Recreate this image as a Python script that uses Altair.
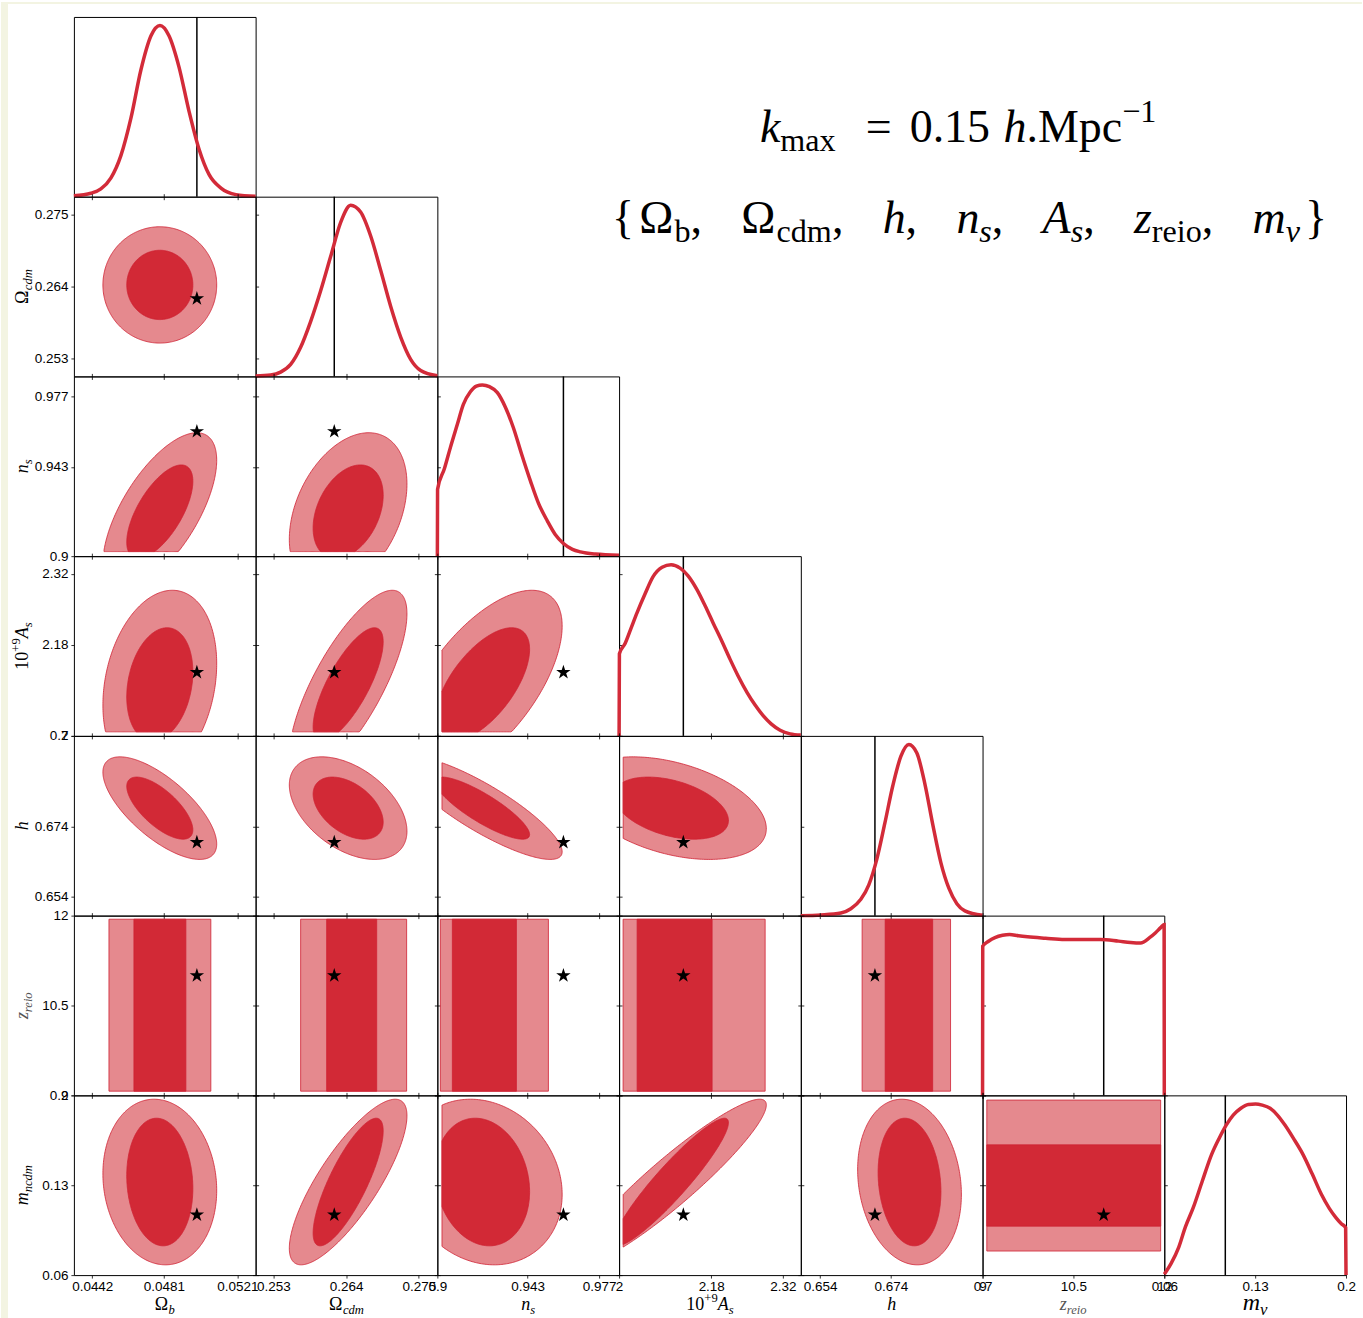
import numpy as np
import pandas as pd
import altair as alt

PANEL_W, PANEL_H = 182, 180
GRID_LEFT, GRID_TOP = 73, 15

DARK = "#d22936"
LIGHT = "#e5898e"
EDGE = "#cf2233"
CURVE = "#d32b39"
STAR = ("M0,-1L0.2245,-0.309L0.951,-0.309L0.363,0.118L0.588,0.809L0,0.382"
        "L-0.588,0.809L-0.363,0.118L-0.951,-0.309L-0.2245,-0.309Z")
LABEL_EXPR = "format(datum.value, '.3~g')"

# ---------------------------------------------------------------- parameters
# order: Omega_b, Omega_cdm, n_s, A_s (x1e9), h, z_reio, m_nu
axis_lo = [0.0432, 0.2503, 0.9, 2.0, 0.6485, 9.0, 0.06]
axis_hi = [0.0531, 0.2778, 0.9865, 2.355, 0.7, 12.0, 0.2]
tick_values = [
    [0.0442, 0.0481, 0.0521],
    [0.253, 0.264, 0.275],
    [0.9, 0.943, 0.977],
    [2.0, 2.18, 2.32],
    [0.654, 0.674, 0.7],
    [9, 10.5, 12],
    [0.06, 0.13, 0.2],
]
fiducial = [0.0499, 0.2622, 0.96, 2.1255, 0.6695, 11.0, 0.107]

# ---------------------------------------------------------------- 1D marginals
omega_b_x = [0.0432, 0.04413, 0.04467, 0.04522, 0.04576, 0.04631, 0.04685, 0.0474, 0.04789,
             0.04838, 0.04892, 0.04947, 0.05001, 0.05056, 0.05121, 0.05203, 0.0531]
omega_b_p = [0.005, 0.02, 0.045, 0.11, 0.24, 0.46, 0.74, 0.94, 1.0,
             0.94, 0.76, 0.5, 0.28, 0.13, 0.05, 0.012, 0.002]

omega_cdm_x = [0.2503, 0.25257, 0.25408, 0.2556, 0.25711, 0.25862, 0.26014, 0.26165, 0.26317,
               0.26468, 0.26619, 0.26771, 0.26922, 0.27073, 0.27225, 0.27376, 0.27527, 0.2778]
omega_cdm_p = [0.003, 0.008, 0.025, 0.07, 0.17, 0.32, 0.5, 0.7, 0.9,
               1.0, 0.96, 0.82, 0.62, 0.41, 0.23, 0.1, 0.035, 0.004]

n_s_x = [0.9, 0.9001, 0.90333, 0.90619, 0.90952, 0.91238, 0.91571, 0.91857, 0.92143, 0.92476,
         0.92857, 0.93238, 0.93619, 0.94, 0.94429, 0.9481, 0.95238, 0.95619, 0.96, 0.96429,
         0.9681, 0.97524, 0.9865]
n_s_p = [0.0, 0.39, 0.51, 0.634, 0.77, 0.886, 0.96, 0.993, 1.0, 0.99,
         0.955, 0.87, 0.75, 0.6, 0.44, 0.31, 0.205, 0.125, 0.074, 0.04,
         0.025, 0.012, 0.005]

a_s_x = [2.0, 2.0006, 2.01172, 2.02345, 2.03517, 2.0508, 2.06643, 2.08402, 2.1016, 2.11919,
         2.13482, 2.1524, 2.16803, 2.18366, 2.20125, 2.21688, 2.23251, 2.2501, 2.26573,
         2.28136, 2.29699, 2.31458, 2.33412, 2.355]
a_s_p = [0.0, 0.48, 0.54, 0.63, 0.72, 0.83, 0.93, 0.985, 1.0, 0.98,
         0.935, 0.853, 0.76, 0.66, 0.55, 0.447, 0.35, 0.253, 0.18,
         0.118, 0.07, 0.033, 0.012, 0.005]

h_x = [0.6485, 0.65417, 0.65984, 0.66267, 0.66551, 0.66777, 0.67004, 0.67231, 0.67458, 0.67684,
       0.67911, 0.68138, 0.68365, 0.68591, 0.68818, 0.69045, 0.69272, 0.69499, 0.7]
h_p = [0.0, 0.004, 0.015, 0.04, 0.095, 0.18, 0.33, 0.54, 0.76, 0.93,
       1.0, 0.95, 0.77, 0.53, 0.31, 0.16, 0.07, 0.028, 0.002]

z_reio_x = [9.0, 9.003, 9.099, 9.205, 9.33, 9.446, 9.594, 9.743, 10.04, 10.354,
            10.651, 10.948, 11.245, 11.443, 11.609, 11.757, 11.856, 11.94, 11.997, 12.0]
z_reio_p = [0.0, 0.872, 0.9, 0.921, 0.935, 0.94, 0.932, 0.926, 0.918, 0.911,
            0.911, 0.911, 0.901, 0.893, 0.89, 0.921, 0.95, 0.98, 0.998, 0.0]

m_nu_x = [0.06, 0.0654, 0.0711, 0.0762, 0.0823, 0.0893, 0.0964, 0.1023, 0.1078, 0.1131,
          0.119, 0.1247, 0.1303, 0.1355, 0.1415, 0.1471, 0.1528, 0.1594, 0.1669, 0.174,
          0.181, 0.1871, 0.1922, 0.1964, 0.1997, 0.2]
m_nu_p = [0.005, 0.07, 0.162, 0.28, 0.394, 0.55, 0.704, 0.8, 0.878, 0.935,
          0.975, 0.997, 1.0, 0.993, 0.975, 0.935, 0.878, 0.8, 0.704, 0.59,
          0.472, 0.39, 0.336, 0.3, 0.278, 0.0]

marginal_x = [omega_b_x, omega_cdm_x, n_s_x, a_s_x, h_x, z_reio_x, m_nu_x]
marginal_p = [omega_b_p, omega_cdm_p, n_s_p, a_s_p, h_p, z_reio_p, m_nu_p]

# ---------------------------------------------------------------- 2D contours
contour_centre = [0.04788, 0.2643, 0.9214, 2.1016, 0.6793, 10.5, 0.1325]
half_width_68 = [0.0018, 0.0053, 0.0225, 0.112, 0.0089, 1.0, 0.0497]
half_width_95 = [0.0031, 0.0089, 0.038, 0.186, 0.0147, 2.0, 0.0645]
support_lo = [0.0432, 0.2503, 0.9022, 2.008, 0.6485, 9.07, 0.0605]
support_hi = [0.0531, 0.2778, 0.9865, 2.355, 0.6985, 11.94, 0.1995]

correlation = {
    (1, 0): 0.0,
    (2, 0): 0.65, (2, 1): 0.35,
    (3, 0): 0.22, (3, 1): 0.75, (3, 2): 0.62,
    (4, 0): -0.7, (4, 1): -0.45, (4, 2): -0.85, (4, 3): -0.4,
    (6, 0): -0.1, (6, 1): 0.8, (6, 2): -0.15, (6, 3): 0.93, (6, 4): -0.15,
}

# z_reio is unconstrained: its panels show bands in the other parameter
band68_lo = [0.04647, 0.26105, 0.90714, 2.0352, 0.6724, None, 0.09814]
band68_hi = [0.0493, 0.26862, 0.93762, 2.1817, 0.68586, None, 0.16144]
band95_lo = [0.04511, 0.25711, 0.90143, 2.0078, 0.66587, None, 0.07874]
band95_hi = [0.05066, 0.27315, 0.95286, 2.2853, 0.69093, None, 0.19635]
Z = 5


def ellipse_region(ix, iy, widths):
    cx, cy = contour_centre[ix], contour_centre[iy]
    ax, ay = widths[ix], widths[iy]
    rho = correlation[(iy, ix)]
    xlo, xhi = support_lo[ix], support_hi[ix]
    ylo, yhi = support_lo[iy], support_hi[iy]
    u = np.cos(np.linspace(np.pi, 0.0, 160))
    extra = [(xlo - cx) / ax, (xhi - cx) / ax]
    u = np.unique(np.concatenate([u, [e for e in extra if -1 < e < 1]]))
    x = cx + ax * u
    ok = (x >= xlo - 1e-12) & (x <= xhi + 1e-12)
    u, x = u[ok], x[ok]
    root = np.sqrt(np.clip((1 - rho ** 2) * (1 - u ** 2), 0, None))
    y_lo = np.clip(cy + ay * (rho * u - root), ylo, yhi)
    y_hi = np.clip(cy + ay * (rho * u + root), ylo, yhi)
    keep = (y_hi - y_lo) > 1e-12
    x, y_lo, y_hi = x[keep], y_lo[keep], y_hi[keep]
    area = pd.DataFrame({"x": x, "y": y_lo, "y2": y_hi})
    # closed outline: upper edge forward, lower edge back
    px = np.concatenate([x, x[::-1], x[:1]])
    py = np.concatenate([y_hi, y_lo[::-1], y_hi[:1]])
    outline = pd.DataFrame({"x": px, "y": py, "k": np.arange(len(px))})
    return area, outline


def band_region(ix, iy, level):
    lo = band68_lo if level == 68 else band95_lo
    hi = band68_hi if level == 68 else band95_hi
    if iy == Z:
        return pd.DataFrame({"x": [lo[ix]], "x2": [hi[ix]],
                             "y": [support_lo[Z]], "y2": [support_hi[Z]]})
    return pd.DataFrame({"x": [support_lo[Z]], "x2": [support_hi[Z]],
                         "y": [lo[iy]], "y2": [hi[iy]]})


def scale_of(i):
    return alt.Scale(domain=[axis_lo[i], axis_hi[i]], nice=False, zero=False)


def axis_of(i, orient, labels):
    return alt.Axis(values=tick_values[i], labels=labels, title=None, labelExpr=LABEL_EXPR,
                    orient=orient)


def panel_2d(r, c):
    layers = []
    for n, (level, fill) in enumerate(((95, LIGHT), (68, DARK))):
        if n == 0:
            xe = alt.X("x:Q", scale=scale_of(c), axis=axis_of(c, "bottom", r == 6))
            ye = alt.Y("y:Q", scale=scale_of(r), axis=axis_of(r, "left", c == 0))
        else:
            xe = alt.X("x:Q", scale=scale_of(c), axis=None)
            ye = alt.Y("y:Q", scale=scale_of(r), axis=None)
        if r == Z or c == Z:
            df = band_region(c, r, level)
            layers.append(alt.Chart(df).mark_rect(
                fill=fill, stroke=EDGE, strokeWidth=0.8, clip=True
            ).encode(x=xe, x2="x2:Q", y=ye, y2="y2:Q"))
        else:
            widths = half_width_95 if level == 95 else half_width_68
            area, outline = ellipse_region(c, r, widths)
            layers.append(alt.Chart(area).mark_area(
                color=fill, opacity=1, clip=True
            ).encode(x=xe, y=ye, y2="y2:Q"))
            layers.append(alt.Chart(outline).mark_line(
                color=EDGE, strokeWidth=0.8, clip=True
            ).encode(
                x=alt.X("x:Q", scale=scale_of(c), axis=None),
                y=alt.Y("y:Q", scale=scale_of(r), axis=None),
                order=alt.Order("k:Q")))
    star = alt.Chart(pd.DataFrame({"x": [fiducial[c]], "y": [fiducial[r]]})).mark_point(
        shape=STAR, filled=True, color="black", opacity=1, size=230).encode(
        x=alt.X("x:Q", scale=scale_of(c), axis=axis_of(c, "top", False)),
        y=alt.Y("y:Q", scale=scale_of(r), axis=axis_of(r, "right", False)))
    layers.append(star)
    return alt.layer(*layers).resolve_axis(x="independent", y="independent").properties(
        width=PANEL_W, height=PANEL_H)


def panel_1d(i):
    df = pd.DataFrame({"x": marginal_x[i], "p": marginal_p[i]})
    rule = alt.Chart(pd.DataFrame({"x": [fiducial[i]]})).mark_rule(
        color="black", strokeWidth=1.5).encode(
        x=alt.X("x:Q", scale=scale_of(i), axis=axis_of(i, "bottom", i == 6)))
    line = alt.Chart(df).mark_line(color=CURVE, strokeWidth=3.5, interpolate="monotone").encode(
        x=alt.X("x:Q", scale=scale_of(i)),
        y=alt.Y("p:Q", scale=alt.Scale(domain=[0, 1.05], nice=False, zero=False), axis=None))
    return alt.layer(rule, line).properties(width=PANEL_W, height=PANEL_H)


# ---------------------------------------------------------------- math-like text
GLYPH_W = {
    False: {"0": 0.5, "1": 0.5, "2": 0.5, "5": 0.5, "9": 0.5, ".": 0.25, ",": 0.25,
            "=": 0.564, "+": 0.564, "\u2212": 0.564, "{": 0.48, "}": 0.48, "M": 0.889,
            "p": 0.5, "c": 0.444, "d": 0.5, "m": 0.778, "a": 0.444, "x": 0.5, "b": 0.5,
            "r": 0.333, "e": 0.444, "i": 0.278, "o": 0.5, "\u03a9": 0.768, "n": 0.5},
    True: {"k": 0.444, "h": 0.5, "n": 0.5, "s": 0.389, "A": 0.611, "z": 0.389, "m": 0.722,
           "\u03bd": 0.444, "b": 0.5, "c": 0.444, "d": 0.5, "r": 0.389, "e": 0.444,
           "i": 0.278, "o": 0.5},
}


def lay_out(pieces, size):
    out, pos = [], 0.0
    for text, role, italic in pieces:
        fs = size if role == "n" else size * 0.7
        dy = 0.0 if role == "n" else (0.2 * size if role == "sub" else -0.42 * size)
        out.append((text, pos, dy, fs, italic))
        pos += sum(GLYPH_W[italic].get(ch, 0.5) for ch in text) * fs
    return out, pos


def horizontal(pieces, size, left, baseline, color="black"):
    items, _ = lay_out(pieces, size)
    return [dict(text=t, px=left + dx, py=baseline + dy, fs=fs, italic=it, angle=0, color=color)
            for t, dx, dy, fs, it in items]


def centred(pieces, size, cx, baseline, color="black"):
    _, total = lay_out(pieces, size)
    return horizontal(pieces, size, cx - total / 2, baseline, color)


def vertical(pieces, size, baseline_x, cy, color="black"):
    items, total = lay_out(pieces, size)
    bottom = cy + total / 2
    return [dict(text=t, px=baseline_x + dy, py=bottom - dx, fs=fs, italic=it, angle=270,
                 color=color) for t, dx, dy, fs, it in items]


def spread(groups, size, left, right, baseline, edge_gap):
    """Lay groups out on one line between left and right, equal gaps between inner groups."""
    widths = [lay_out(g, size)[1] for g in groups]
    inner_gap = (right - left - sum(widths) - 2 * edge_gap) / (len(groups) - 3)
    out, pos = [], left
    for k, (g, w) in enumerate(zip(groups, widths)):
        out += horizontal(g, size, pos, baseline)
        if k == 0 or k == len(groups) - 2:
            pos += w + edge_gap
        else:
            pos += w + inner_gap
    return out


x_titles = [
    [("\u03a9", "n", False), ("b", "sub", True)],
    [("\u03a9", "n", False), ("cdm", "sub", True)],
    [("n", "n", True), ("s", "sub", True)],
    [("10", "n", False), ("+9", "sup", False), ("A", "n", True), ("s", "sub", True)],
    [("h", "n", True)],
    [("z", "n", True), ("reio", "sub", True)],
    [("m", "n", True), ("\u03bd", "sub", True)],
]
y_titles = [
    None,
    [("\u03a9", "n", False), ("cdm", "sub", True)],
    [("n", "n", True), ("s", "sub", True)],
    [("10", "n", False), ("+9", "sup", False), ("A", "n", True), ("s", "sub", True)],
    [("h", "n", True)],
    [("z", "n", True), ("reio", "sub", True)],
    [("m", "n", True), ("ncdm", "sub", True)],
]

texts = []
for i, pieces in enumerate(x_titles):
    cx = GRID_LEFT + PANEL_W * i + PANEL_W / 2
    size = 24 if i == 6 else 18
    texts += centred(pieces, size, cx, 1310, "#555555" if i == Z else "black")
for i, pieces in enumerate(y_titles):
    if pieces is None:
        continue
    cy = GRID_TOP + PANEL_H * i + PANEL_H / 2
    texts += vertical(pieces, 18, 27, cy, "#555555" if i == Z else "black")

# header line 1: groups starting at a given left x
header_line1 = [
    (760, [("k", "n", True), ("max", "sub", False)]),
    (866, [("=", "n", False)]),
    (910, [("0.15", "n", False)]),
    (1004, [("h", "n", True), (".Mpc", "n", False), ("\u22121", "sup", False)]),
]
for left, pieces in header_line1:
    texts += horizontal(pieces, 46, left, 140)

# header line 2: the set of varied parameters
header_line2 = [
    [("{", "n", False)],
    [("\u03a9", "n", False), ("b", "sub", False), (",", "n", False)],
    [("\u03a9", "n", False), ("cdm", "sub", False), (",", "n", False)],
    [("h", "n", True), (",", "n", False)],
    [("n", "n", True), ("s", "sub", True), (",", "n", False)],
    [("A", "n", True), ("s", "sub", True), (",", "n", False)],
    [("z", "n", True), ("reio", "sub", False), (",", "n", False)],
    [("m", "n", True), ("\u03bd", "sub", True)],
    [("}", "n", False)],
]
texts += spread(header_line2, 46, 612, 1328, 231, 5)

text_df = pd.DataFrame(texts)
# the annotation cell is the empty slot right of the first diagonal panel
cell_x0, cell_y0 = GRID_LEFT + PANEL_W, GRID_TOP
text_df["px"] = text_df["px"] - cell_x0
text_df["py"] = text_df["py"] - cell_y0


def annotation_cell():
    one = pd.DataFrame({"a": [0]})
    layers = [
        alt.Chart(one).mark_rect(color="#f3f4e2").encode(
            x=alt.value(-cell_x0), x2=alt.value(-cell_x0 + 7),
            y=alt.value(-cell_y0), y2=alt.value(1318 - cell_y0)),
        alt.Chart(one).mark_rect(color="#f3f4e2").encode(
            x=alt.value(-cell_x0), x2=alt.value(1363 - cell_x0),
            y=alt.value(-cell_y0), y2=alt.value(-cell_y0 + 2)),
    ]
    for (italic, angle, color), sub in text_df.groupby(["italic", "angle", "color"]):
        layers.append(
            alt.Chart(sub.reset_index(drop=True)).mark_text(
                align="left", baseline="alphabetic", font="Liberation Serif",
                fontStyle="italic" if italic else "normal", angle=int(angle), color=color
            ).encode(
                x=alt.X("px:Q", scale=None, axis=None),
                y=alt.Y("py:Q", scale=None, axis=None),
                text="text:N",
                size=alt.Size("fs:Q", scale=None, legend=None),
            ))
    return alt.layer(*layers).properties(
        width=PANEL_W, height=PANEL_H, view=alt.ViewBackground(stroke="transparent"))


def blank_cell():
    one = pd.DataFrame({"a": [0]})
    return alt.Chart(one).mark_point(opacity=0).encode(
        x=alt.value(0), y=alt.value(0)).properties(
        width=PANEL_W, height=PANEL_H, view=alt.ViewBackground(stroke="transparent"))


cells = []
for r in range(7):
    for c in range(7):
        if c < r:
            cells.append(panel_2d(r, c))
        elif c == r:
            cells.append(panel_1d(r))
        elif (r, c) == (0, 1):
            cells.append(annotation_cell())
        else:
            cells.append(blank_cell())

chart = alt.concat(*cells, columns=7, spacing=0, bounds="flush", padding=0).configure_view(
    stroke="black", strokeWidth=1
).configure_axis(
    domain=False, grid=False, tickColor="black", tickSize=3, tickWidth=0.8,
    labelFont="Liberation Sans", labelFontSize=13.5, labelColor="black",
    labelFlush=False, labelOverlap=False
).configure_axisLeft(labelPadding=3).configure_axisBottom(labelPadding=1)

chart.save("out.html", embed_options={"renderer": "svg", "actions": False})
